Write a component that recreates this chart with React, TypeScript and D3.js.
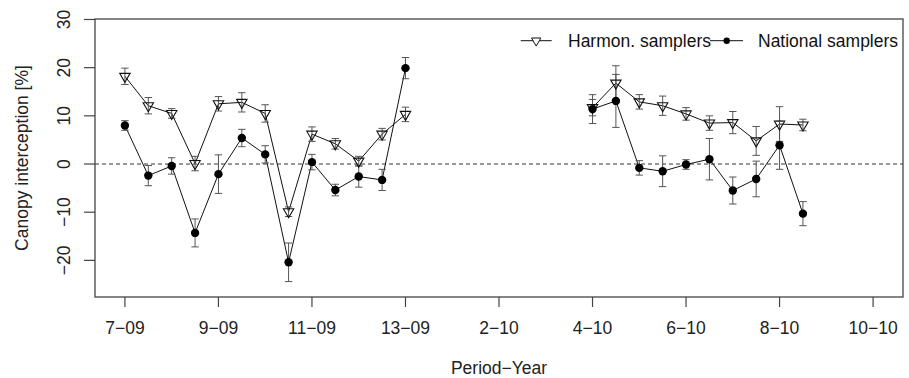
import React from 'react';
import * as d3 from 'd3';

// sampling periods (13 periods per year), x axis runs 7-09 .. 10-10
const periods = [
  '7-09', '8-09', '9-09', '10-09', '11-09', '12-09', '13-09',
  '1-10', '2-10', '3-10', '4-10', '5-10', '6-10', '7-10', '8-10', '9-10', '10-10',
];
const xTickLabels = ['7-09', '9-09', '11-09', '13-09', '2-10', '4-10', '6-10', '8-10', '10-10'];
const yTicks = [-20, -10, 0, 10, 20, 30];

// sample times as period index (half-period steps)
const t09 = [0, 0.5, 1, 1.5, 2, 2.5, 3, 3.5, 4, 4.5, 5, 5.5, 6];
const t10 = [10, 10.5, 11, 11.5, 12, 12.5, 13, 13.5, 14, 14.5];

const harm09 = [18.2, 12.1, 10.5, 0.1, 12.5, 12.8, 10.5, -9.9, 6.2, 4.2, 0.6, 6.2, 10.3];
const harm09Err = [1.7, 1.7, 1.0, 1.5, 1.5, 2.0, 1.8, 1.0, 1.5, 1.1, 1.0, 1.2, 1.5];
const nat09 = [8.0, -2.4, -0.4, -14.3, -2.1, 5.4, 2.0, -20.4, 0.4, -5.4, -2.6, -3.3, 19.9];
const nat09Err = [1.0, 2.1, 1.7, 2.9, 4.0, 1.8, 1.8, 4.0, 1.6, 1.2, 2.2, 2.2, 2.2];

const harm10 = [11.7, 16.8, 12.9, 12.1, 10.4, 8.5, 8.6, 4.8, 8.3, 8.1];
const harm10Err = [1.7, 3.6, 1.5, 2.0, 1.3, 1.5, 2.3, 3.0, 3.6, 1.2];
const nat10 = [11.4, 13.1, -0.8, -1.5, -0.1, 1.0, -5.5, -3.1, 3.9, -10.3];
const nat10Err = [3.0, 5.5, 1.5, 3.2, 1.0, 4.3, 2.8, 3.7, 5.0, 2.5];

const W = 909;
const H = 378;
const box = { left: 95, right: 903, top: 19, bottom: 297 };
const font = 'Liberation Sans, Arial, Helvetica, sans-serif';

type Pt = { t: number; v: number; e: number };

const zip = (t: number[], v: number[], e: number[]): Pt[] => t.map((x, i) => ({ t: x, v: v[i], e: e[i] }));

const App = () => {
  const x = d3.scaleLinear().domain([-0.64, 16.64]).range([box.left, box.right]);
  const y = d3.scaleLinear().domain([-27.6, 30.1]).range([box.bottom, box.top]);
  const line = d3.line<Pt>().x(d => x(d.t)).y(d => y(d.v));

  const harmSegs = [zip(t09, harm09, harm09Err), zip(t10, harm10, harm10Err)];
  const natSegs = [zip(t09, nat09, nat09Err), zip(t10, nat10, nat10Err)];

  const tri = (cx: number, cy: number, r: number) => {
    const xc = (r * Math.sqrt(3)) / 2;
    return `M${cx},${cy + r}L${cx + xc},${cy - r / 2}L${cx - xc},${cy - r / 2}Z`;
  };

  const errBars = (segs: Pt[][], key: string) =>
    segs.flat().map((d, i) => {
      const cx = x(d.t);
      const y0 = y(d.v + d.e);
      const y1 = y(d.v - d.e);
      return (
        <g key={key + i} stroke="#555" strokeWidth={1}>
          <line x1={cx} x2={cx} y1={y0} y2={y1} />
          <line x1={cx - 3.7} x2={cx + 3.7} y1={y0} y2={y0} />
          <line x1={cx - 3.7} x2={cx + 3.7} y1={y1} y2={y1} />
        </g>
      );
    });

  const legY = 40.7;
  const fs = 17.5;

  return (
    <svg width={W} height={H} style={{ position: 'absolute', left: 0, top: 0, background: '#fff' }} fontFamily={font}>
      {/* zero line */}
      <line x1={box.left} x2={box.right} y1={y(0)} y2={y(0)} stroke="#333" strokeDasharray="4,3" />

      {/* series lines */}
      {harmSegs.map((s, i) => (
        <path key={'hl' + i} d={line(s) || ''} fill="none" stroke="#111" strokeWidth={1} />
      ))}
      {natSegs.map((s, i) => (
        <path key={'nl' + i} d={line(s) || ''} fill="none" stroke="#111" strokeWidth={1} />
      ))}

      {errBars(harmSegs, 'he')}
      {errBars(natSegs, 'ne')}

      {harmSegs.flat().map((d, i) => (
        <path key={'hp' + i} d={tri(x(d.t), y(d.v), 6)} fill="none" stroke="#111" strokeWidth={1.1} />
      ))}
      {natSegs.flat().map((d, i) => (
        <circle key={'np' + i} cx={x(d.t)} cy={y(d.v)} r={4.2} fill="#000" />
      ))}

      {/* box */}
      <rect x={box.left} y={box.top} width={box.right - box.left} height={box.bottom - box.top} fill="none" stroke="#444" strokeWidth={1.3} />

      {/* x axis */}
      {xTickLabels.map(lab => {
        const px = x(periods.indexOf(lab));
        return (
          <g key={lab}>
            <line x1={px} x2={px} y1={box.bottom} y2={box.bottom + 10} stroke="#444" strokeWidth={1.2} />
            <text x={px} y={334} textAnchor="middle" fontSize={fs} fill="#222">
              {lab.replace('-', '\u2212')}
            </text>
          </g>
        );
      })}
      <text x={(box.left + box.right) / 2} y={373.5} textAnchor="middle" fontSize={fs} fill="#222">
        Period{'\u2212'}Year
      </text>

      {/* y axis */}
      {yTicks.map(v => (
        <g key={v}>
          <line x1={box.left - 11} x2={box.left} y1={y(v)} y2={y(v)} stroke="#444" strokeWidth={1.2} />
          <text transform={`translate(70,${y(v)}) rotate(-90)`} textAnchor="middle" fontSize={fs} fill="#222">
            {d3.format('d')(v).replace('-', '\u2212')}
          </text>
        </g>
      ))}
      <text transform="translate(28,158) rotate(-90)" textAnchor="middle" fontSize={fs} fill="#222">
        Canopy interception [%]
      </text>

      {/* legend */}
      <line x1={520.7} x2={551.7} y1={legY} y2={legY} stroke="#111" />
      <path d={tri(536.2, legY, 5.4)} fill="#fff" stroke="#111" />
      <text x={568} y={46.5} fontSize={fs} fill="#111">Harmon. samplers</text>
      <line x1={710} x2={743} y1={legY} y2={legY} stroke="#111" />
      <circle cx={726.7} cy={legY} r={3.2} fill="#000" />
      <text x={758} y={46.5} fontSize={fs} fill="#111">National samplers</text>
    </svg>
  );
};

export default App;
